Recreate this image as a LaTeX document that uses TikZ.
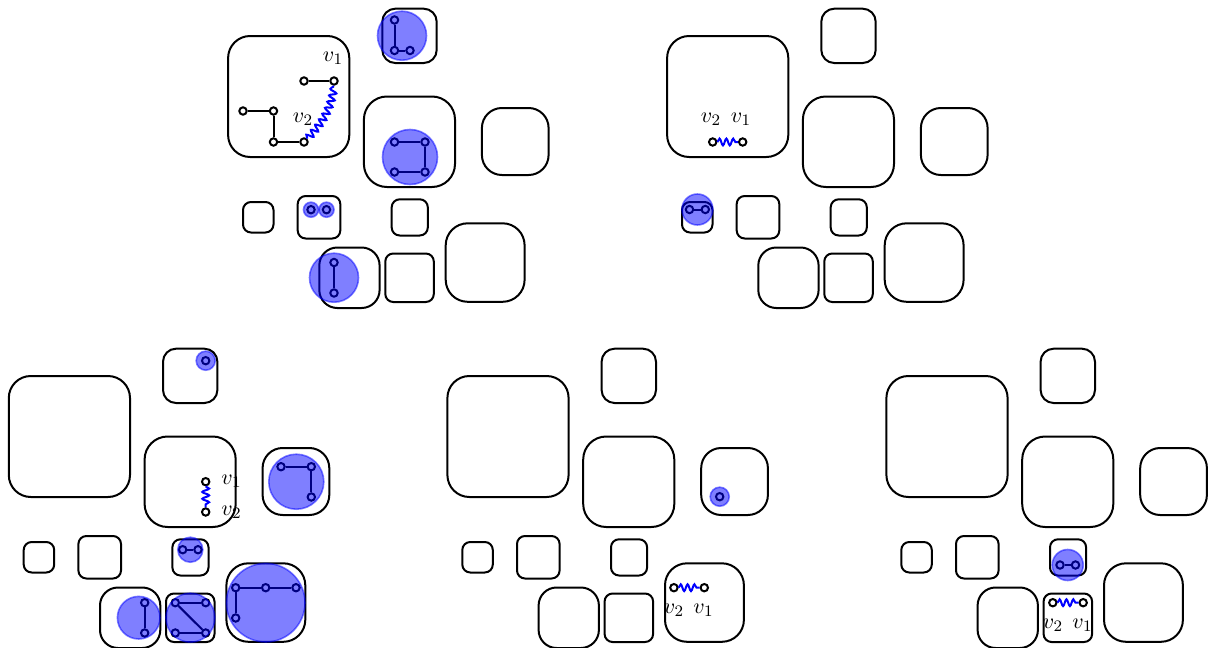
\documentclass[tikz,border=0pt]{standalone}
\usepackage{xcolor}
\usepackage{tikz}
\usetikzlibrary{decorations.pathmorphing}
\tikzset{
    blob/.style={draw=black, line width=1pt},
    vert/.style={circle, draw=black, fill=white, line width=1pt, inner sep=0pt, minimum size=3.7pt},
    edge/.style={draw=black, line width=1pt},
    spring/.style={draw=blue, line width=1pt, decorate, decoration={snake, amplitude=1.7pt, segment length=3.42pt}},
    hilite/.style={fill=blue, fill opacity=0.5, draw=blue, draw opacity=0.5, line width=0.8pt},
    lab/.style={inner sep=0pt, text=black, font=\fontsize{11}{13}\selectfont}
}
% The ten rounded boxes of one panel, shifted as a whole
\newcommand{\blobs}[2]{
    \begin{scope}[shift={(#1,#2)}]
        \foreach \xa/\ya/\xb/\yb/\rad in {
            228.1/36/349.3/157/11, 382.3/8.7/436.7/63/6.5, 363.9/96.5/455/187/11.5,
            481.9/108/548.6/175/10, 243/202/273.5/232.5/4, 297.7/196/340.3/238.5/4,
            391.7/199.3/427.8/235.5/4, 319.3/247.5/379.6/308/9, 385.3/253.5/433.8/302/4,
            445.7/223.3/524.6/301.8/11}
            \draw[blob, rounded corners=\rad pt] (\xa,\ya) rectangle (\xb,\yb);
    \end{scope}
}
\begin{document}
\begin{tikzpicture}[x=0.5pt, y=-0.5pt]
    \useasboundingbox (0,0) rectangle (1211,648);

    % Top left panel
    \blobs{0}{0}
    \node[vert] (a1) at (304,81) {};
    \node[vert] (a2) at (334,81) {};
    \node[vert] (a3) at (243,111) {};
    \node[vert] (a4) at (273.5,111) {};
    \node[vert] (a5) at (273.5,142) {};
    \node[vert] (a6) at (304,142) {};
    \draw[edge] (a1) -- (a2);
    \draw[edge] (a3) -- (a4);
    \draw[edge] (a4) -- (a5);
    \draw[edge] (a5) -- (a6);
    \draw[spring] (a6) to[bend right=18] (a2);
    \node[lab] (a7) at (333,58.5) {$v_1$};
    \node[lab] (a8) at (303,119) {$v_2$};
    \node[vert] (a9) at (394.5,20) {};
    \node[vert] (a10) at (394.5,50.5) {};
    \node[vert] (a11) at (410,50.5) {};
    \draw[edge] (a9) -- (a10);
    \draw[edge] (a10) -- (a11);
    \draw[hilite] (402,35.7) circle (24.5);
    \node[vert] (a12) at (394.5,142) {};
    \node[vert] (a13) at (425,142) {};
    \node[vert] (a14) at (394.5,172) {};
    \node[vert] (a15) at (425,172) {};
    \draw[edge] (a12) -- (a13);
    \draw[edge] (a13) -- (a15);
    \draw[edge] (a14) -- (a15);
    \draw[hilite] (410,157) circle (27.5);
    \node[vert] (a16) at (311,209.7) {};
    \node[vert] (a17) at (326.5,209.7) {};
    \draw[hilite] (311,209.7) circle (7.5);
    \draw[hilite] (326.5,209.7) circle (7.5);
    \node[vert] (a18) at (334,262.5) {};
    \node[vert] (a19) at (334,293) {};
    \draw[edge] (a18) -- (a19);
    \draw[hilite] (334,277.7) circle (24.5);

    % Top right panel
    \blobs{439}{0}
    \node[vert] (b1) at (712.7,142) {};
    \node[vert] (b2) at (742.7,142) {};
    \draw[spring] (b1) -- (b2);
    \node[lab] (b3) at (711,119.5) {$v_2$};
    \node[lab] (b4) at (741,119.5) {$v_1$};
    \node[vert] (b5) at (689.5,209.5) {};
    \node[vert] (b6) at (705.3,209.5) {};
    \draw[edge] (b5) -- (b6);
    \draw[hilite] (697.4,209.5) circle (15.5);

    % Bottom left panel
    \blobs{-219.3}{340}
    \node[vert] (c1) at (205.7,360.7) {};
    \draw[hilite] (205.7,360.7) circle (9.5);
    \node[vert] (c2) at (205.7,481.7) {};
    \node[vert] (c3) at (205.7,512) {};
    \draw[spring] (c2) -- (c3);
    \node[lab] (c4) at (231.5,481.5) {$v_1$};
    \node[lab] (c5) at (231.5,512.5) {$v_2$};
    \node[vert] (c6) at (281,466.7) {};
    \node[vert] (c7) at (311.3,466.7) {};
    \node[vert] (c8) at (311.3,497) {};
    \draw[edge] (c6) -- (c7);
    \draw[edge] (c7) -- (c8);
    \draw[hilite] (296.3,481.7) circle (27.5);
    \node[vert] (c9) at (182.7,549.7) {};
    \node[vert] (c10) at (198,549.7) {};
    \draw[edge] (c9) -- (c10);
    \draw[hilite] (190.3,549.7) circle (12.5);
    \node[vert] (c11) at (144.7,602.7) {};
    \node[vert] (c12) at (144.7,633) {};
    \draw[edge] (c11) -- (c12);
    \draw[hilite] (138.7,617.7) circle (21.3);
    \node[vert] (c13) at (175.3,602.7) {};
    \node[vert] (c14) at (205.7,602.7) {};
    \node[vert] (c15) at (175.3,633) {};
    \node[vert] (c16) at (205.7,633) {};
    \draw[edge] (c13) -- (c14);
    \draw[edge] (c13) -- (c16);
    \draw[edge] (c15) -- (c16);
    \draw[hilite] (190.4,617.7) circle (24.5);
    \node[vert] (c17) at (235.7,587.7) {};
    \node[vert] (c18) at (265.7,587.7) {};
    \node[vert] (c19) at (296,587.7) {};
    \node[vert] (c20) at (235.7,618) {};
    \draw[edge] (c17) -- (c18);
    \draw[edge] (c18) -- (c19);
    \draw[edge] (c17) -- (c20);
    \draw[hilite] (265.7,602.7) circle (39.3);

    % Bottom middle panel
    \blobs{219.3}{340}
    \node[vert] (d1) at (719.7,496.7) {};
    \draw[hilite] (719.7,496.7) circle (9.5);
    \node[vert] (d2) at (673.9,587.7) {};
    \node[vert] (d3) at (704.3,587.7) {};
    \draw[spring] (d2) -- (d3);
    \node[lab] (d4) at (674,610) {$v_2$};
    \node[lab] (d5) at (703.5,610) {$v_1$};

    % Bottom right panel
    \blobs{658.3}{340}
    \node[vert] (e1) at (1060,565) {};
    \node[vert] (e2) at (1075.5,565) {};
    \draw[edge] (e1) -- (e2);
    \draw[hilite] (1067.7,565) circle (15.5);
    \node[vert] (e3) at (1052.8,602.7) {};
    \node[vert] (e4) at (1083.2,602.7) {};
    \draw[spring] (e3) -- (e4);
    \node[lab] (e5) at (1053,625.3) {$v_2$};
    \node[lab] (e6) at (1082.5,625.3) {$v_1$};
\end{tikzpicture}
\end{document}
